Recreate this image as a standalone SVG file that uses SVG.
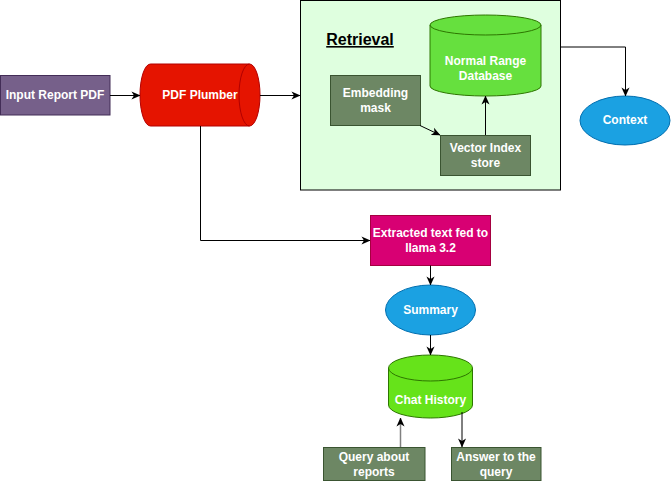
<svg xmlns="http://www.w3.org/2000/svg" width="671" height="482" viewBox="0 0 671 482">
<defs>
<marker id="arr" viewBox="0 0 10 10" refX="9.5" refY="5" markerWidth="9" markerHeight="9" markerUnits="userSpaceOnUse" orient="auto">
<path d="M0,0.5 L10,5 L0,9.5 L2.8,5 Z" fill="#000"/>
</marker>
<style>
.t{font-family:"Liberation Sans",Arial,sans-serif;font-size:12px;font-weight:bold;fill:#fff;text-anchor:middle}
.gbox{fill:#6d8764;stroke:#3a5431;stroke-width:1}
.edge{fill:none;stroke:#000;stroke-width:1;marker-end:url(#arr)}
</style>
</defs>
<rect width="671" height="482" fill="#fff"/>
<g id="retrieval">
<rect x="300.5" y="0.5" width="260" height="189.5" fill="#dfffdf" stroke="#000" stroke-width="1"/>
<text x="360" y="45" style="font-family:'Liberation Sans',Arial,sans-serif;font-size:16px;font-weight:bold;text-decoration:underline" text-anchor="middle" fill="#000">Retrieval</text>
</g>
<g id="input">
<rect x="0.5" y="75.5" width="109.5" height="39.5" fill="#76608a" stroke="#432d57"/>
<text class="t" x="55" y="99">Input Report PDF</text>
</g>
<g id="pdfplumber">
<path d="M150.5,64 H249.5 A10.5,31 0 0 1 249.5,126 H150.5 A10.5,31 0 0 1 150.5,64 Z" fill="#e51400" stroke="#b20000"/>
<path d="M249.5,64 A10.5,31 0 0 0 249.5,126" fill="none" stroke="#b20000"/>
<text class="t" x="200" y="99">PDF Plumber</text>
</g>
<g id="normaldb">
<path d="M430,25 A55.5,10 0 0 1 541,25 V86 A55.5,10 0 0 1 430,86 Z" fill="#66e03e" stroke="#2d7600"/>
<path d="M430,25 A55.5,10 0 0 0 541,25" fill="none" stroke="#2d7600"/>
<text class="t" x="485.5" y="65">Normal Range</text>
<text class="t" x="485.5" y="80">Database</text>
</g>
<g id="embedding">
<rect class="gbox" x="330.5" y="75.5" width="90" height="50"/>
<text class="t" x="375.5" y="97">Embedding</text>
<text class="t" x="375.5" y="111.5">mask</text>
</g>
<g id="vector">
<rect class="gbox" x="440.5" y="135.5" width="90" height="40"/>
<text class="t" x="485.5" y="152">Vector Index</text>
<text class="t" x="485.5" y="167">store</text>
</g>
<g id="context">
<ellipse cx="625" cy="120.5" rx="45" ry="24.5" fill="#1ba1e2" stroke="#006eaf"/>
<text class="t" x="625" y="124">Context</text>
</g>
<g id="extracted">
<rect x="370.5" y="215.5" width="120" height="50" fill="#d80073" stroke="#a50040"/>
<text class="t" x="430.5" y="237">Extracted text fed to</text>
<text class="t" x="430.5" y="252">llama 3.2</text>
</g>
<g id="summary">
<ellipse cx="430.5" cy="310" rx="45" ry="25" fill="#1ba1e2" stroke="#006eaf"/>
<text class="t" x="430.5" y="314">Summary</text>
</g>
<g id="chathistory">
<path d="M388.5,368 A42,13 0 0 1 472.5,368 V405 A42,13 0 0 1 388.5,405 Z" fill="#66e31a" stroke="#2d7600"/>
<path d="M388.5,368 A42,13 0 0 0 472.5,368" fill="none" stroke="#2d7600"/>
<text class="t" x="430.5" y="404">Chat History</text>
</g>
<g id="query">
<rect class="gbox" x="323.5" y="447.5" width="101.5" height="33"/>
<text class="t" x="374" y="461">Query about</text>
<text class="t" x="374" y="476">reports</text>
</g>
<g id="answer">
<rect class="gbox" x="451.5" y="447.5" width="89.5" height="33"/>
<text class="t" x="496" y="461">Answer to the</text>
<text class="t" x="496" y="476">query</text>
</g>
<g id="connectors">
<path class="edge" d="M110,95.5 H140"/>
<path class="edge" d="M260,95.5 H300"/>
<path class="edge" d="M200.5,126 V240.5 H370"/>
<path class="edge" d="M420,125.5 L440,135"/>
<path class="edge" d="M485.5,135 V96"/>
<path class="edge" d="M561,47 H625.5 V96"/>
<path class="edge" d="M430.5,265.5 V285"/>
<path class="edge" d="M430.5,335 V355"/>
<path class="edge" style="stroke:#808080;stroke-width:1.5" d="M400.5,447 V418"/>
<path class="edge" d="M462,412 V447"/>
</g>
</svg>
